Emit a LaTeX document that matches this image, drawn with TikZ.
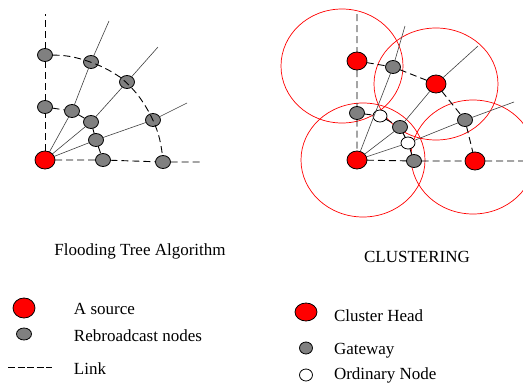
\documentclass[tikz,border=0pt]{standalone}
\usepackage{fontspec}
\setmainfont{Liberation Serif}
\usetikzlibrary{shapes.geometric}

\begin{document}
\begin{tikzpicture}[x=1pt,y=-1pt,
  every node/.style={inner sep=0pt,outer sep=0pt},
  src/.style={ellipse,draw,line width=0.8pt,fill=red,minimum width=20pt,minimum height=18pt},
  relay/.style={ellipse,draw,line width=0.8pt,fill=gray,minimum width=15pt,minimum height=13pt},
  plain/.style={ellipse,draw,line width=0.8pt,fill=white,minimum width=14pt,minimum height=12pt},
  link/.style={dash pattern=on 7pt off 4pt,line width=0.9pt},
  ray/.style={line width=0.6pt,black!75},
  reach/.style={red,line width=0.7pt},
  lbl/.style={anchor=base west,font=\fontsize{17}{20}\selectfont},
  ttl/.style={anchor=base,font=\fontsize{17}{20}\selectfont}]
\useasboundingbox (0,0) rectangle (523,383);

\node[src] (s) at (45,160) {};
\node[relay] (i1) at (45,107) {};
\node[relay] (i2) at (72,111) {};
\node[relay] (i3) at (91,122) {};
\node[relay] (i4) at (96,140) {};
\node[relay] (i5) at (103,160) {};
\node[relay] (o1) at (45,55) {};
\node[relay] (o2) at (91,62) {};
\node[relay] (o3) at (127,82) {};
\node[relay] (o4) at (153,120) {};
\node[relay] (o5) at (163,162) {};
\coordinate (t0) at (45,14);
\coordinate (t1) at (200,162);
\coordinate (e2) at (109,21);
\coordinate (e3) at (158,47);
\coordinate (e4) at (187,103);

\draw[link] (s) -- (i1) -- (o1) -- (t0);
\draw[link] (s) -- (i5) -- (o5) -- (t1);
\draw[link] (i1) -- (i2) -- (i3) -- (i4) -- (i5);
\draw[link] (o1) to[bend left=8] (o2) to[bend left=8] (o3) to[bend left=10] (o4) to[bend left=10] (o5);
\draw[ray] (s) -- (i2) -- (o2) -- (e2);
\draw[ray] (s) -- (i3) -- (o3) -- (e3);
\draw[ray] (s) -- (i4) -- (o4) -- (e4);

\draw[reach] (342,66) ellipse [x radius=61, y radius=57];
\draw[reach] (436,84) ellipse [x radius=62, y radius=56];
\draw[reach] (363,160) ellipse [x radius=62, y radius=57];
\draw[reach] (473,157) ellipse [x radius=62, y radius=57];

\node[src] (h1) at (357,61) {};
\node[src] (h2) at (436,84) {};
\node[src] (h3) at (357,160) {};
\node[src] (h4) at (475,161) {};
\node[relay] (g1) at (393,67) {};
\node[relay] (g2) at (357,113) {};
\node[relay] (g3) at (400,127) {};
\node[relay] (g4) at (465,120) {};
\node[relay] (g5) at (414,161) {};
\node[plain] (w1) at (380,116) {};
\node[plain] (w2) at (408,143) {};
\coordinate (u0) at (357,14);
\coordinate (u1) at (523,161);
\coordinate (f1) at (405,26);
\coordinate (f2) at (478,46);
\coordinate (f3) at (514,102);

\draw[link] (u0) -- (h1) -- (g2) -- (h3) -- (g5) -- (h4) -- (u1);
\draw[link] (h1) -- (g1) -- (h2) -- (g4) -- (h4);
\draw[link] (g2) -- (w1) -- (g3) -- (w2) -- (g5);
\draw[ray] (h3) -- (g1) -- (f1);
\draw[ray] (h3) -- (g3) -- (h2) -- (f2);
\draw[ray] (h3) -- (w2) -- (g4) -- (f3);

\node[ttl] (c1) at (140,255) {Flooding Tree Algorithm};
\node[ttl] (c2) at (417,262) {CLUSTERING};

\node[src,minimum width=22pt,minimum height=20pt] (k1) at (24,308) {};
\node[relay,minimum height=12pt] (k2) at (24,334) {};
\coordinate (k3a) at (8,367);
\coordinate (k3b) at (52,367);
\draw[link,dash pattern=on 7pt off 2.5pt] (k3a) -- (k3b);
\node[lbl] (n1) at (74,314) {A source};
\node[lbl] (n2) at (74,341) {Rebroadcast nodes};
\node[lbl] (n3) at (74,374) {Link};

\node[src,minimum width=22pt] (k4) at (306,312) {};
\node[relay,minimum width=13pt,minimum height=12pt] (k5) at (306,348) {};
\node[plain,minimum width=13pt] (k6) at (306,375) {};
\node[lbl] (n4) at (334,321) {Cluster Head};
\node[lbl] (n5) at (334,354) {Gateway};
\node[lbl] (n6) at (334,379) {Ordinary Node};
\end{tikzpicture}
\end{document}
